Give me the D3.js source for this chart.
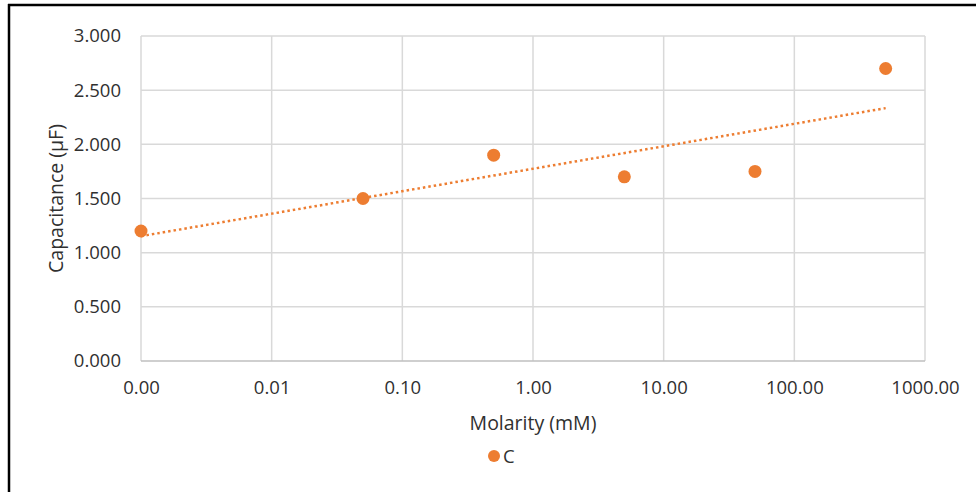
<!DOCTYPE html>
<html><head><meta charset="utf-8">
<script src="https://cdn.jsdelivr.net/npm/d3@7/dist/d3.min.js"></script>
<style>
html,body{margin:0;padding:0;background:#fff;}
svg{display:block;font-family:"Open Sans",sans-serif;}
</style></head>
<body>
<svg id="chart" width="976" height="492"></svg>
<script>
const seriesName = "C";
const molarity = [0.001, 0.05, 0.5, 5, 50, 500];
const capacitance = [1.2, 1.5, 1.9, 1.7, 1.75, 2.7];
const xTicks = [0.001, 0.01, 0.1, 1, 10, 100, 1000];
const xTickLabels = ["0.00", "0.01", "0.10", "1.00", "10.00", "100.00", "1000.00"];
const yTicks = [0, 0.5, 1, 1.5, 2, 2.5, 3];
const xTitle = "Molarity (mM)";
const yTitle = "Capacitance (µF)";

const color = "#ED7D31";
const textColor = "#303030";
const svg = d3.select("#chart");
const W = 976, H = 492;
const m = {left:141, right:925, top:36, bottom:361};

svg.append("rect").attr("width",W).attr("height",H).attr("fill","#fff");
// outer frame (cropped box: left and top borders visible)
svg.append("line").attr("x1",9).attr("x2",9).attr("y1",4).attr("y2",H).attr("stroke","#000").attr("stroke-width",2.5);
svg.append("line").attr("x1",8).attr("x2",W).attr("y1",5).attr("y2",5).attr("stroke","#000").attr("stroke-width",2.5);

const x = d3.scaleLog().domain([0.001,1000]).range([m.left,m.right]);
const y = d3.scaleLinear().domain([0,3]).range([m.bottom,m.top]);

// gridlines
svg.append("g").selectAll("line").data(yTicks.filter(d=>d>0)).join("line")
  .attr("x1",m.left).attr("x2",m.right).attr("y1",d=>y(d)).attr("y2",d=>y(d))
  .attr("stroke","#d9d9d9").attr("stroke-width",1.5);
svg.append("g").selectAll("line").data(xTicks).join("line")
  .attr("x1",d=>x(d)).attr("x2",d=>x(d)).attr("y1",m.top).attr("y2",m.bottom)
  .attr("stroke","#d9d9d9").attr("stroke-width",1.5);
// bottom axis line
svg.append("line").attr("x1",m.left).attr("x2",m.right).attr("y1",m.bottom).attr("y2",m.bottom)
  .attr("stroke","#bfbfbf").attr("stroke-width",1.5);

// y axis labels
const yAxis = d3.axisLeft(y).tickValues(yTicks).tickFormat(d3.format(".3f")).tickSize(0).tickPadding(20);
const gy = svg.append("g").attr("transform",`translate(${m.left},0)`).call(yAxis);
gy.select(".domain").remove();
gy.selectAll("text").attr("font-size",18.5).attr("fill",textColor).attr("font-family","Open Sans");

// x axis labels
const xAxis = d3.axisBottom(x).tickValues(xTicks).tickFormat((d,i)=>xTickLabels[i]).tickSize(0).tickPadding(20);
const gx = svg.append("g").attr("transform",`translate(0,${m.bottom})`).call(xAxis);
gx.select(".domain").remove();
gx.selectAll("text").attr("font-size",18.5).attr("fill",textColor).attr("font-family","Open Sans");

// titles
svg.append("text").attr("x",(m.left+m.right)/2).attr("y",430).attr("text-anchor","middle")
  .attr("font-size",19.5).attr("fill",textColor).text(xTitle);
svg.append("text").attr("transform",`translate(63,${(m.top+m.bottom)/2}) rotate(-90)`).attr("text-anchor","middle")
  .attr("font-size",19.5).attr("fill",textColor).text(yTitle);

// logarithmic trendline (least squares on log10 x)
const lx = molarity.map(Math.log10);
const mx = d3.mean(lx), my = d3.mean(capacitance);
const b = d3.sum(lx.map((v,i)=>(v-mx)*(capacitance[i]-my))) / d3.sum(lx.map(v=>(v-mx)**2));
const a = my - b*mx;
const xMin = d3.min(molarity), xMax = d3.max(molarity);
const trend = d3.range(0,101).map(i=>{const lv=Math.log10(xMin)+(Math.log10(xMax)-Math.log10(xMin))*i/100; return [Math.pow(10,lv), a+b*lv];});
svg.append("path").datum(trend)
  .attr("d", d3.line().x(d=>x(d[0])).y(d=>y(d[1])))
  .attr("fill","none").attr("stroke",color).attr("stroke-width",2.5)
  .attr("stroke-dasharray","2.5,3");

// points
svg.append("g").selectAll("circle").data(molarity).join("circle")
  .attr("cx",d=>x(d)).attr("cy",(d,i)=>y(capacitance[i])).attr("r",6.5).attr("fill",color);

// legend
svg.append("circle").attr("cx",494).attr("cy",456).attr("r",6).attr("fill",color);
svg.append("text").attr("x",503).attr("y",463).attr("font-size",18.5).attr("fill",textColor).text(seriesName);
</script>
</body></html>
